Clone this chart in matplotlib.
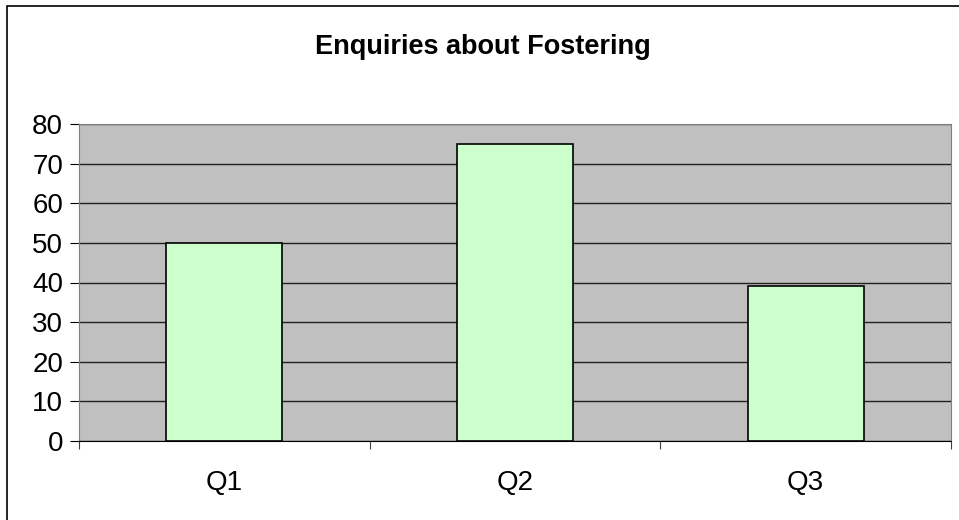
import matplotlib.pyplot as plt
from matplotlib.patches import Rectangle

quarters = ["Q1", "Q2", "Q3"]
enquiries = [50, 75, 39]

plt.rcParams['font.family'] = ['Liberation Sans', 'DejaVu Sans']

fig = plt.figure(figsize=(9.59, 5.2), dpi=100)
# chart area border (left and top visible)
fig.patches.append(Rectangle((7 / 959, -0.1), 1.2, (520 - 6) / 520 + 0.1,
                             transform=fig.transFigure, fill=False,
                             edgecolor="black", linewidth=1.2))

ax = fig.add_axes([79 / 959, 79 / 520, 872 / 959, 317 / 520])
ax.set_facecolor("#C0C0C0")

x = list(range(len(quarters)))
ax.bar(x, enquiries, width=0.4, color="#CCFFCC", edgecolor="black",
       linewidth=1.2, zorder=3)

ax.set_xlim(-0.5, len(quarters) - 0.5)
ax.set_ylim(0, 80)
ax.set_yticks(range(0, 81, 10))
ax.yaxis.grid(True, color="#202020", linewidth=1, zorder=1)
ax.set_axisbelow(True)

ax.set_xticks([i - 0.5 for i in range(len(quarters) + 1)])
ax.set_xticklabels([])
ax.set_xticks(x, minor=True)
ax.set_xticklabels(quarters, minor=True)
ax.tick_params(axis="x", which="minor", length=0, pad=21, labelsize=20)
ax.tick_params(axis="x", which="major", length=6, direction="out", color="#404040")
ax.tick_params(axis="y", length=6.5, labelsize=20, pad=5)

for side in ["top", "right"]:
    ax.spines[side].set_color("#808080")
ax.spines["left"].set_color("#808080")
ax.spines["bottom"].set_color("black")

fig.text(0.503, 1 - 47 / 520, "Enquiries about Fostering", ha="center",
         va="center", fontsize=19.5, fontweight="bold")

fig.savefig("out.png", dpi=100)
